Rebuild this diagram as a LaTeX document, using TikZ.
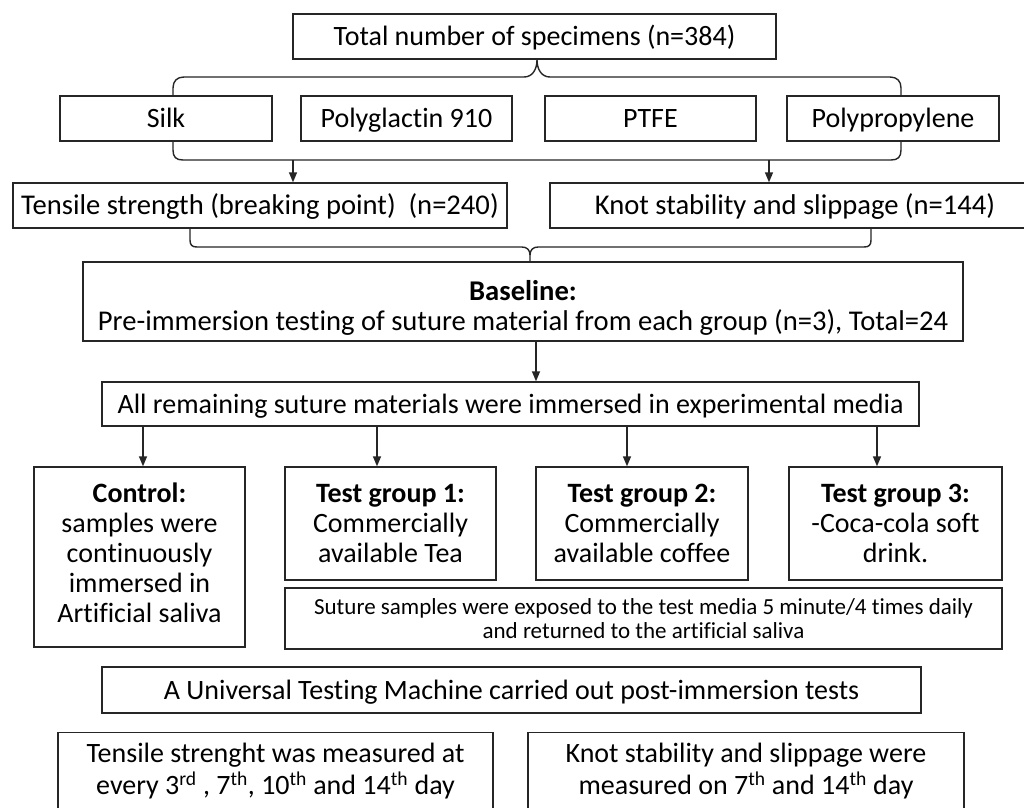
\documentclass[tikz,border=0pt]{standalone}
\usepackage{fontspec}
\setmainfont[RawFeature=-liga]{Carlito}
\usetikzlibrary{arrows.meta}
\tikzset{
  ln/.style={line width=1.4pt, draw=black!85},
  box/.style={ln, rectangle, inner sep=0pt, align=center, font=\fontsize{28}{30}\selectfont},
  one/.style={text height=22pt, text depth=4pt},
  bigtxt/.style={font=\fontsize{28}{30}\selectfont},
  largetxt/.style={font=\fontsize{28.6}{30}\selectfont},
  smalltxt/.style={font=\fontsize{23}{24.5}\selectfont},
  txt/.style={inner sep=0pt, align=center, font=\fontsize{28}{32}\selectfont},
  arr/.style={ln, -{Triangle[length=10pt,width=8pt]}},
}
\begin{document}
\begin{tikzpicture}[x=1pt,y=-1pt]
\useasboundingbox (0,0) rectangle (1024,807);
\fill[white] (0,0) rectangle (1024,807);
\clip (0,0) rectangle (1024,807);

% row 1
\node[box, one, minimum width=483, minimum height=45] (total) at (534.5,36.5) {Total number of specimens (n=384)};
% materials
\node[box, one, minimum width=212, minimum height=45] (silk) at (166,118.5) {Silk};
\node[box, one, minimum width=211, minimum height=45] (poly) at (406.5,118.5) {Polyglactin 910};
\node[box, one, minimum width=211, minimum height=45] (ptfe) at (650.5,118.5) {PTFE};
\node[box, one, minimum width=212, minimum height=45] (pp) at (893,118.5) {Polypropylene};

% top brace
\coordinate (btl) at (173,96);
\coordinate (btr) at (901,96);
\draw[ln] (btl) -- (173,88) .. controls (173,81) and (177,77) .. (184,77) -- (524,77)
  .. controls (532,77) and (537,70) .. (total.south -| 537,0)
  .. controls (537,70) and (542,77) .. (550,77) -- (890,77)
  .. controls (897,77) and (901,81) .. (901,88) -- (btr);

% lower bracket of materials
\coordinate (bb1) at (293,160);
\coordinate (bb2) at (769,160);
\draw[ln] (173,141) -- (173,150) .. controls (173,157) and (176,160) .. (183,160) -- (891,160)
  .. controls (898,160) and (901,157) .. (901,150) -- (901,141);

% tests
\node[box, one, largetxt, minimum width=494, minimum height=45] (tens) at (260,205.5) {Tensile strength (breaking point)\ \ (n=240)};
\node[box, one, largetxt, minimum width=490, minimum height=45] (knot) at (795,205.5) {Knot stability and slippage (n=144)};
\draw[arr] (bb1) -- (bb1 |- tens.north);
\draw[arr] (bb2) -- (bb2 |- knot.north);

% baseline
\node[box, largetxt, minimum width=880, minimum height=79] (base) at (523,301.5) {\rule{0pt}{32pt}\textbf{Baseline:}\\Pre-immersion testing of suture material from each group (n=3), Total=24};
\draw[ln] (tens.south -| 190,0) -- (190,240) .. controls (190,245) and (192,247) .. (197,247) -- (522,247)
  .. controls (527,247) and (530,250) .. (530,255) -- (base.north -| 530,0);
\draw[ln] (knot.south -| 871,0) -- (871,240) .. controls (871,245) and (869,247) .. (864,247) -- (538,247)
  .. controls (533,247) and (530,250) .. (530,255);

% all remaining
\node[box, one, minimum width=817, minimum height=44] (all) at (510.5,404) {All remaining suture materials were immersed in experimental media};
\coordinate (ba) at (536,341);
\draw[arr] (ba) -- (ba |- all.north);

% groups
\node[box, bigtxt, minimum width=211, minimum height=180] (ctrl) at (139.5,557) {\textbf{Control:}\\samples were\\continuously\\immersed in\\Artificial saliva\rule[-8pt]{0pt}{8pt}};
\node[box, bigtxt, minimum width=211, minimum height=113] (tg1) at (390.5,523.5) {\textbf{Test group 1:}\\Commercially\\available Tea};
\node[box, bigtxt, minimum width=212, minimum height=113] (tg2) at (642,523.5) {\textbf{Test group 2:}\\Commercially\\available coffee};
\node[box, bigtxt, minimum width=213, minimum height=113] (tg3) at (895.5,523.5) {\textbf{Test group 3:}\\-Coca-cola soft\\drink.};
\coordinate (a1) at (143,426);
\coordinate (a2) at (377,426);
\coordinate (a3) at (627,426);
\coordinate (a4) at (877,426);
\draw[arr] (a1) -- (a1 |- ctrl.north);
\draw[arr] (a2) -- (a2 |- tg1.north);
\draw[arr] (a3) -- (a3 |- tg2.north);
\draw[arr] (a4) -- (a4 |- tg3.north);

\node[box, smalltxt, minimum width=717, minimum height=61] (sut) at (643.5,618.5) {Suture samples were exposed to the test media 5 minute/4 times daily\\and returned to the artificial saliva};

\node[box, one, minimum width=819, minimum height=46] (utm) at (511.5,690) {A Universal Testing Machine carried out post-immersion tests};

% bottom boxes (cut by the page edge)
\node[box, minimum width=435, minimum height=110, anchor=north] (tsb) at (275.5,732) {};
\node[txt] (tst) at (275.5,771) {Tensile strenght was measured at\\every 3\textsuperscript{rd} , 7\textsuperscript{th}, 10\textsuperscript{th} and 14\textsuperscript{th} day};
\node[box, minimum width=436, minimum height=110, anchor=north] (ksb) at (746,732) {};
\node[txt] (kst) at (746,771) {Knot stability and slippage were\\measured on 7\textsuperscript{th} and 14\textsuperscript{th} day};
\end{tikzpicture}
\end{document}
